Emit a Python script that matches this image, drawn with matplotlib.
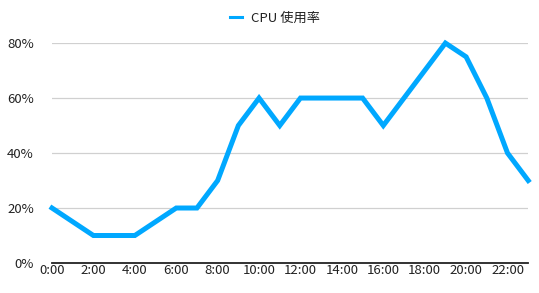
import numpy as np
import matplotlib
matplotlib.use('Agg')
import matplotlib.pyplot as plt
from matplotlib.lines import Line2D

plt.rcParams['font.family'] = ['Noto Sans CJK JP', 'DejaVu Sans']

hours = np.arange(24)
cpu = [20, 15, 10, 10, 10, 15, 20, 20, 30, 50, 60, 50,
       60, 60, 60, 60, 50, 60, 70, 80, 75, 60, 40, 30]
xticks = list(range(0, 24, 2))
xlabels = ['%d:00' % h for h in xticks]
yticks = [0, 20, 40, 60, 80]
blue = '#00a8ff'

fig = plt.figure(figsize=(5.39, 2.93), dpi=100)
ax = fig.add_axes([0.0965, 0.1024, 0.8835, 0.7506])

ax.plot(hours, cpu, color=blue, lw=3.6, solid_joinstyle='miter', clip_on=False)

ax.set_xlim(0, 23)
ax.set_ylim(0, 80)
ax.set_xticks(xticks)
ax.set_xticklabels(xlabels)
ax.set_yticks(yticks)
ax.set_yticklabels(['%d%%' % v for v in yticks])
for v in yticks[1:]:
    ax.axhline(v, color='#d0d0d0', lw=0.9, zorder=0)

for s in ['top', 'right', 'left']:
    ax.spines[s].set_visible(False)
ax.spines['bottom'].set_color('#222222')
ax.spines['bottom'].set_linewidth(1.3)
ax.tick_params(axis='both', length=0, labelsize=9.5, colors='#222222')
ax.tick_params(axis='x', pad=1)
ax.tick_params(axis='y', pad=13)

handle = Line2D([], [], color=blue, lw=2.2)
fig.legend([handle], ['CPU 使用率'], loc='upper center', bbox_to_anchor=(0.51, 1.0),
           frameon=False, fontsize=9.5, handlelength=0.9, handletextpad=0.7,
           labelcolor='#222222')

fig.savefig('out.png', dpi=100)
